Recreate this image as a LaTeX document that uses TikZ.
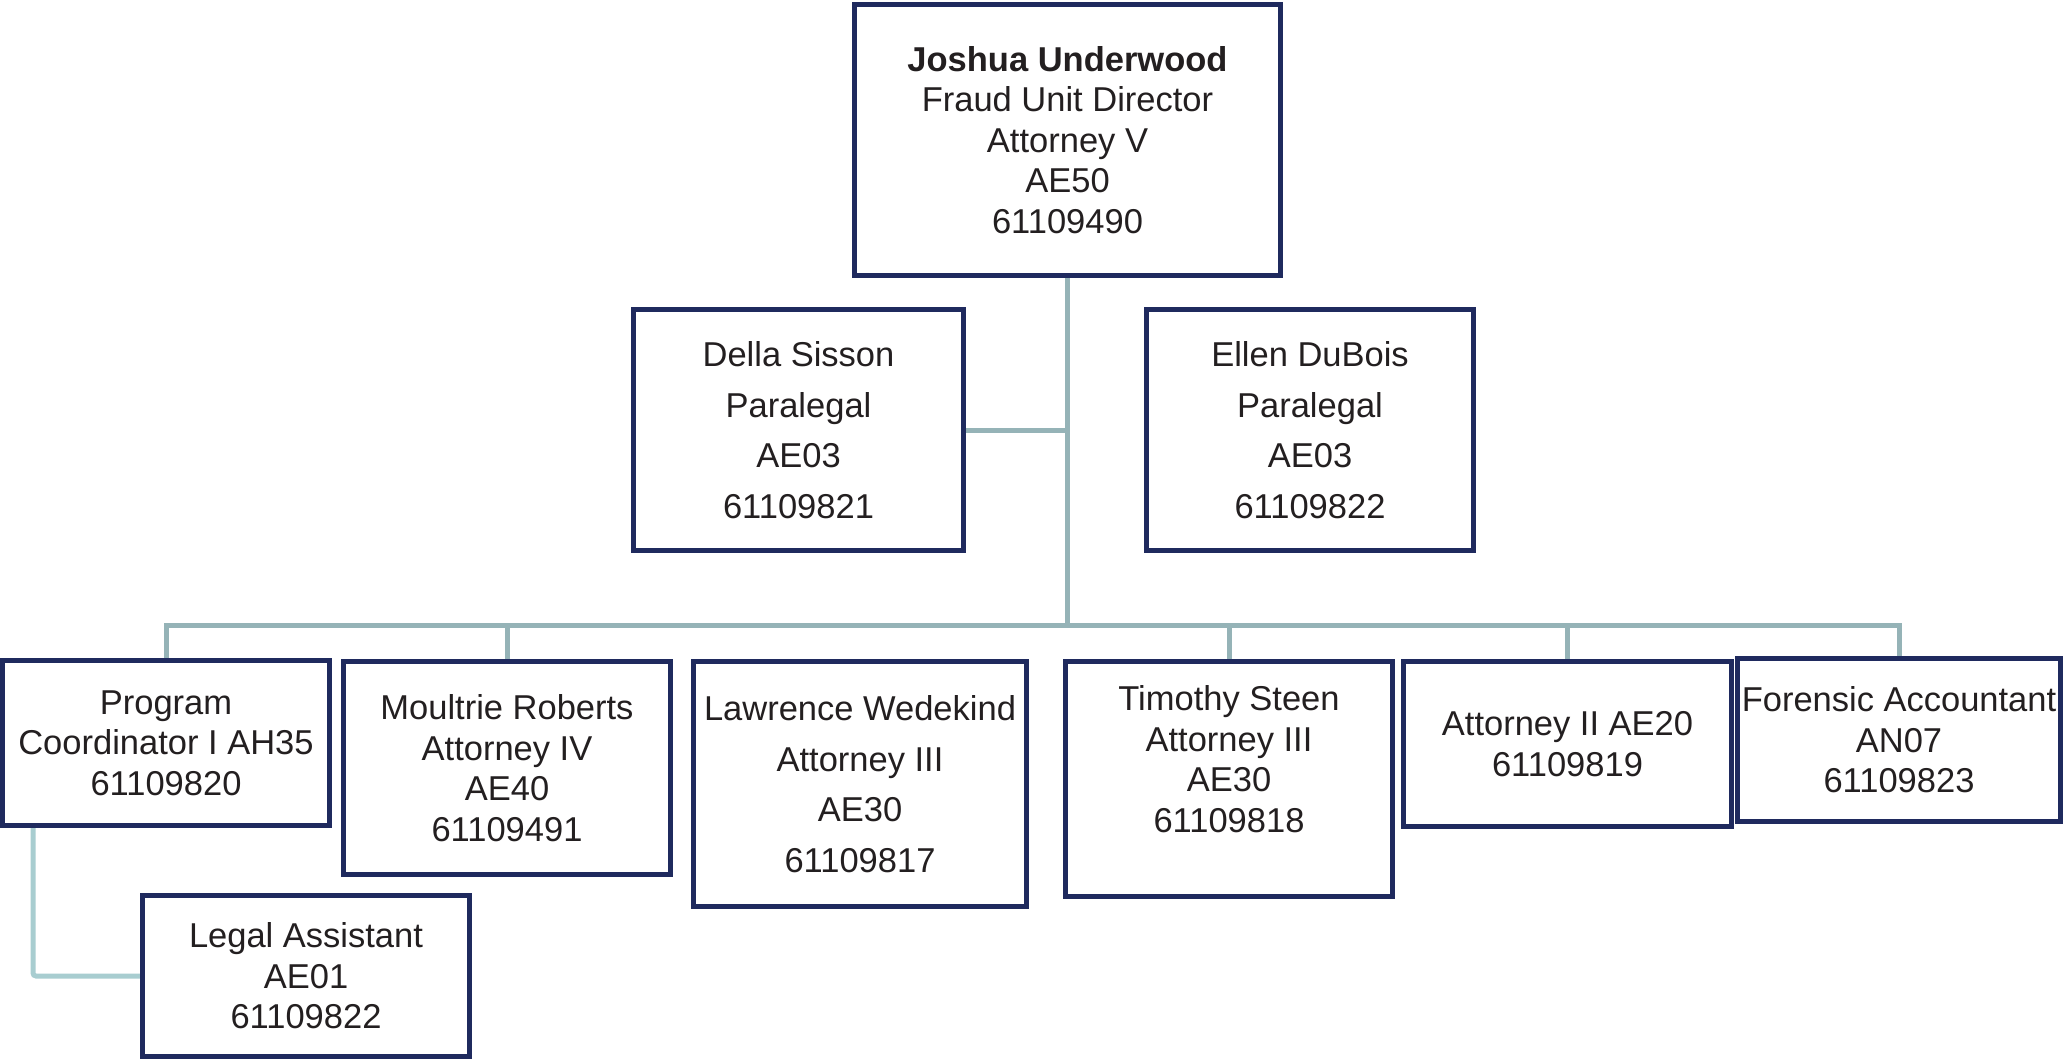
\documentclass[tikz,border=0pt]{standalone}
\usepackage{fontspec}
\setmainfont{Liberation Sans}
\usetikzlibrary{backgrounds}
\definecolor{navy}{HTML}{1F2A5E}
\definecolor{conn}{HTML}{95B3B7}
\definecolor{connlight}{HTML}{A8CDD0}
\definecolor{ink}{HTML}{231F20}
\tikzset{
  box/.style={draw=navy, line width=5pt, fill=white, inner sep=0pt, align=center,
    text=ink, font=\fontsize{34.5}{40.5}\selectfont},
  wide/.style={font=\fontsize{34.5}{50.5}\selectfont},
  link/.style={draw=conn, line width=5pt},
  linklight/.style={draw=connlight, line width=5pt, rounded corners=3pt},
}
\begin{document}
\begin{tikzpicture}[x=1pt,y=-1pt]
\useasboundingbox (0,0) rectangle (2065,1060);
% nodes
\node[box, minimum width=426pt, minimum height=271pt] (dir) at (1067.5,140)
  {\textbf{Joshua Underwood}\\Fraud Unit Director\\Attorney V\\AE50\\61109490};
\node[box, wide, minimum width=330pt, minimum height=241pt] (della) at (798.5,430)
  {Della Sisson\\Paralegal\\AE03\\61109821};
\node[box, wide, minimum width=327pt, minimum height=241pt] (ellen) at (1310,430)
  {Ellen DuBois\\Paralegal\\AE03\\61109822};
\node[box, minimum width=327pt, minimum height=165pt] (prog) at (166,743)
  {Program\\Coordinator I AH35\\61109820};
\node[box, minimum width=327pt, minimum height=213pt] (moul) at (507,768)
  {Moultrie Roberts\\Attorney IV\\AE40\\61109491};
\node[box, wide, minimum width=333pt, minimum height=245pt] (law) at (860,784)
  {Lawrence Wedekind\\Attorney III\\AE30\\61109817};
\node[box, minimum width=327pt, minimum height=235pt] (tim) at (1229,779)
  {Timothy Steen\\Attorney III\\AE30\\61109818\\\mbox{}};
\node[box, minimum width=328pt, minimum height=165pt] (att) at (1567.5,744)
  {Attorney II AE20\\61109819};
\node[box, minimum width=323pt, minimum height=163pt] (forn) at (1899,740)
  {Forensic Accountant\\AN07\\61109823};
\node[box, minimum width=327pt, minimum height=161pt] (legal) at (306,976)
  {Legal Assistant\\AE01\\61109822};
\coordinate (bus) at (1067,625);
% connectors
\begin{scope}[on background layer]
\draw[link] (dir.south) -- (dir.south |- bus);
\draw[link] (della.east) -- (della.east -| dir.south);
\draw[link] (prog.north) -- (prog.north |- bus) -- (forn.north |- bus) -- (forn.north);
\draw[link] (moul.north) -- (moul.north |- bus);
\draw[link] (tim.north) -- (tim.north |- bus);
\draw[link] (att.north) -- (att.north |- bus);
\draw[linklight] ([xshift=33pt]prog.south west) |- (legal.west);
\end{scope}
\end{tikzpicture}
\end{document}
